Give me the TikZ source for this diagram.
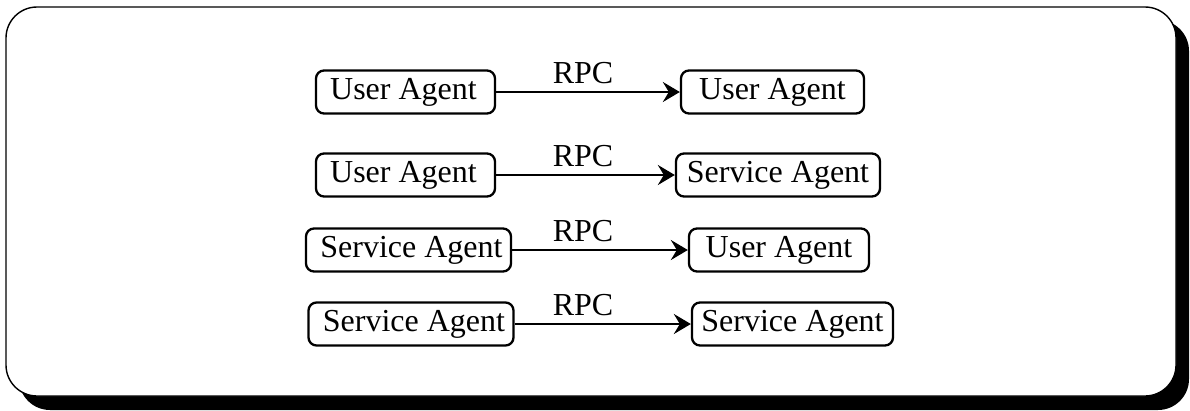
\documentclass[tikz,border=0pt]{standalone}
\usepackage{fontspec}
\setmainfont{Liberation Serif}
\usetikzlibrary{arrows.meta}
\begin{document}
\begin{tikzpicture}[x=1pt,y=-1pt,
  agent/.style={draw,line width=2.3pt,rounded corners=8pt,minimum height=43pt,inner sep=0pt,
    font=\fontsize{32}{34}\selectfont},
  lbl/.style={font=\fontsize{32}{34}\selectfont,inner sep=0pt,anchor=base},
  conn/.style={line width=2.6pt,-{Stealth[length=17pt,width=20pt,inset=6pt]}}]
\useasboundingbox (0,0) rectangle (1190,410);
\fill[black,rounded corners=31pt] (19,20) rectangle (1189,410);
\draw[fill=white,line width=1.4pt,rounded corners=31pt] (6,7) rectangle (1176,396);
% row 1
\node[agent,minimum width=179pt] (a1) at (405.5,92) {\hspace*{-4pt}User Agent};
\node[agent,minimum width=183pt] (b1) at (772.5,92) {User Agent};
\draw[conn] (a1) -- (b1);
\node[lbl] (r1) at (583,83) {RPC};
% row 2
\node[agent,minimum width=179pt] (a2) at (405.5,175) {\hspace*{-4pt}User Agent};
\node[agent,minimum width=204pt] (b2) at (778,175) {Service Agent};
\draw[conn] (a2) -- (b2);
\node[lbl] (r2) at (583,166) {RPC};
% row 3
\node[agent,minimum width=205pt] (a3) at (408.5,250) {\hspace*{6pt}Service Agent};
\node[agent,minimum width=180pt] (b3) at (779,250) {User Agent};
\draw[conn] (a3) -- (b3);
\node[lbl] (r3) at (583,241) {RPC};
% row 4
\node[agent,minimum width=205pt] (a4) at (411,324) {\hspace*{6pt}Service Agent};
\node[agent,minimum width=201pt] (b4) at (792.5,324) {Service Agent};
\draw[conn] (a4) -- (b4);
\node[lbl] (r4) at (583,315) {RPC};
\end{tikzpicture}
\end{document}
